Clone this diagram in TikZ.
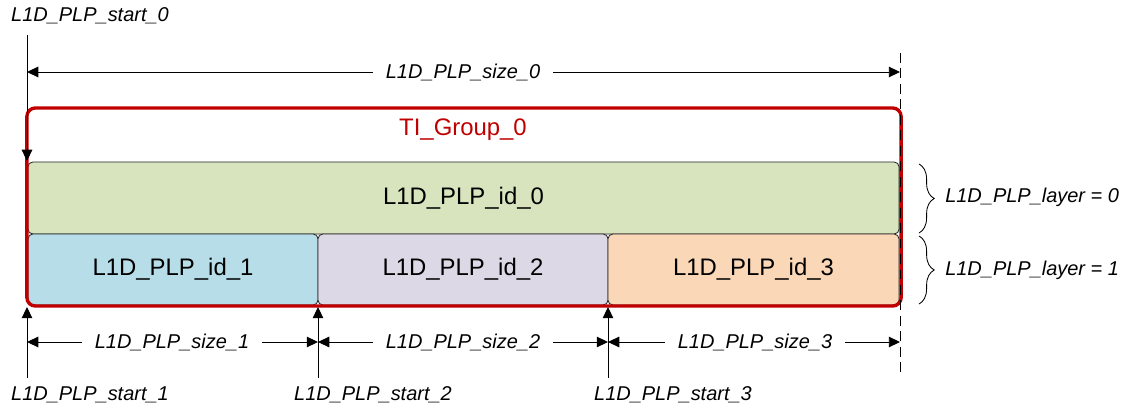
\documentclass[tikz,border=0pt]{standalone}
\usepackage{fontspec}
\setmainfont{Liberation Sans}
\usetikzlibrary{positioning,calc}
\usetikzlibrary{arrows.meta,decorations.pathreplacing}
\definecolor{GrpRed}{RGB}{192,0,0}
\definecolor{IdGreen}{RGB}{215,228,189}
\definecolor{IdBlue}{RGB}{183,222,232}
\definecolor{IdLilac}{RGB}{221,216,230}
\definecolor{IdPeach}{RGB}{250,215,182}
\tikzset{
	blk/.style={draw=black!85,line width=0.6pt,rounded corners=3.5pt,inner sep=0pt,
		font=\fontsize{17}{20}\selectfont},
	grp/.style={draw=GrpRed,line width=2.4pt,rounded corners=6pt,inner sep=0pt},
	ptr/.style={draw=black,line width=0.7pt,-{Triangle[length=8pt,width=7.5pt]}},
	lbl/.style={font=\itshape\fontsize{14.2}{17}\selectfont,inner sep=0pt},
	dimlbl/.style={lbl,inner xsep=9pt,inner ysep=2pt},
	brc/.style={draw=black,line width=0.6pt,decoration={brace,amplitude=0.38cm},decorate},
}
\begin{document}
\begin{tikzpicture}[x=0.025cm,y=-0.025cm]
	\useasboundingbox (0,0) rectangle (1125,411);
	% x positions of the markers
	\coordinate (m0) at (27,0);
	\coordinate (m1) at (318,0);
	\coordinate (m2) at (608,0);
	\coordinate (m3) at (900,0);

	% blocks
	\node[blk,fill=IdGreen,minimum width=21.775cm,minimum height=1.8cm] (id0) at (463.5,198) {L1D\_PLP\_id\_0};
	\node[blk,fill=IdBlue,minimum width=7.25cm,minimum height=1.775cm] (id1) at (173,269.5) {L1D\_PLP\_id\_1};
	\node[blk,fill=IdLilac,minimum width=7.25cm,minimum height=1.775cm] (id2) at (463,269.5) {L1D\_PLP\_id\_2};
	\node[blk,fill=IdPeach,minimum width=7.275cm,minimum height=1.775cm] (id3) at (753.5,269.5) {L1D\_PLP\_id\_3};
	\node[grp,minimum width=21.85cm,minimum height=4.95cm] (grp0) at (464,207) {};
	\node[font=\fontsize{17}{20}\selectfont,text=GrpRed,inner sep=0pt] (tig) at (463,130) {TI\_Group\_0};

	% dashed end line
	\draw[black,line width=0.6pt,dash pattern=on 7pt off 4pt] (900,53) -- (900,373);

	% start markers
	\node[lbl] (st0) at (90,16) {L1D\_PLP\_start\_0};
	\coordinate (st0a) at (27,35);
	\coordinate (st0b) at (27,161);
	\draw[ptr] (st0a) -- (st0b);
	\node[lbl] (st1) at (90,395) {L1D\_PLP\_start\_1};
	\node[lbl] (st2) at (373,395) {L1D\_PLP\_start\_2};
	\node[lbl] (st3) at (673,395) {L1D\_PLP\_start\_3};
	\coordinate (st1a) at (27,378);
	\coordinate (st2a) at (318,378);
	\coordinate (st3a) at (608,378);
	\draw[ptr] (st1a) -- (st1a |- 0,307);
	\draw[ptr] (st2a) -- (st2a |- 0,307);
	\draw[ptr] (st3a) -- (st3a |- 0,307);

	% sizes
	\node[dimlbl] (sz0) at (463,72) {L1D\_PLP\_size\_0};
	\draw[ptr] (sz0.west) -- (sz0.west -| m0);
	\draw[ptr] (sz0.east) -- (sz0.east -| m3);
	\node[dimlbl] (sz1) at (172,342) {L1D\_PLP\_size\_1};
	\draw[ptr] (sz1.west) -- (sz1.west -| m0);
	\draw[ptr] (sz1.east) -- (sz1.east -| m1);
	\node[dimlbl] (sz2) at (463,342) {L1D\_PLP\_size\_2};
	\draw[ptr] (sz2.west) -- (sz2.west -| m1);
	\draw[ptr] (sz2.east) -- (sz2.east -| m2);
	\node[dimlbl] (sz3) at (755,342) {L1D\_PLP\_size\_3};
	\draw[ptr] (sz3.west) -- (sz3.west -| m2);
	\draw[ptr] (sz3.east) -- (sz3.east -| m3);

	% layers
	\coordinate (ly0a) at (919,164);
	\coordinate (ly0b) at (919,233);
	\coordinate (ly1a) at (919,236);
	\coordinate (ly1b) at (919,304);
	\draw[brc] (ly0a) -- (ly0b);
	\draw[brc] (ly1a) -- (ly1b);
	\node[lbl,anchor=west] (ly0) at (945,197) {L1D\_PLP\_layer = 0};
	\node[lbl,anchor=west] (ly1) at (945,270) {L1D\_PLP\_layer = 1};
\end{tikzpicture}
\end{document}
